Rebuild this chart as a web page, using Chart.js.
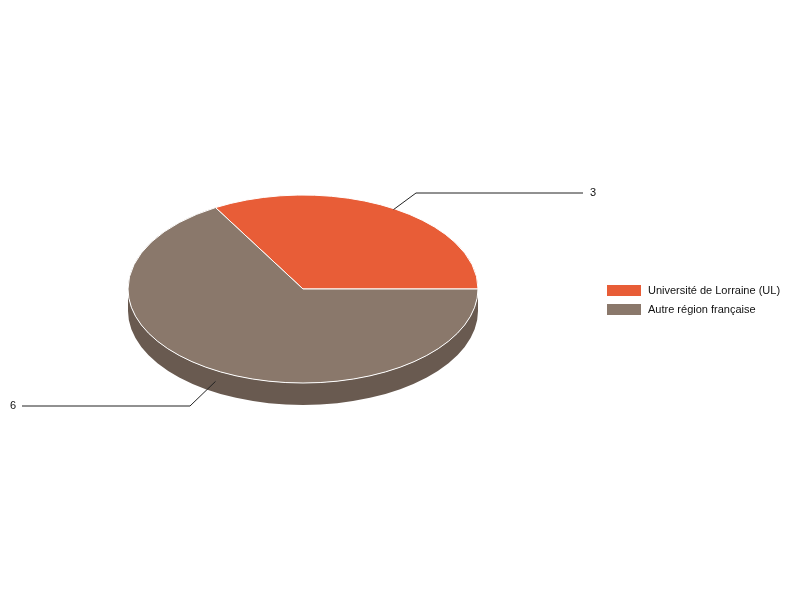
<!DOCTYPE html>
<html>
<head>
<meta charset="utf-8">
<script src="https://cdn.jsdelivr.net/npm/chart.js@4.4.1/dist/chart.umd.min.js"></script>
<style>
  html, body { margin: 0; padding: 0; background: #fff; }
  canvas { display: block; }
</style>
</head>
<body>
<canvas id="chart" width="800" height="600"></canvas>
<script>
const labels = ['Université de Lorraine (UL)', 'Autre région française'];
const values = [3, 6];
const colors = ['#E85D37', '#8A786B'];
const sideColors = ['#A8432A', '#695A50'];

// tilt of the pie (ry / rx) and thickness of the side wall
const TILT = 94 / 175;
const DEPTH = 22;
const FONT = '11px "Liberation Sans", Arial, sans-serif';

const pie3d = {
  id: 'pie3d',
  beforeDatasetsDraw() {
    return false; // we draw the slices ourselves, flattened
  },
  afterDraw(chart) {
    const ctx = chart.ctx;
    const arcs = chart.getDatasetMeta(0).data;
    if (!arcs.length) return;
    const p0 = arcs[0].getProps(['x', 'y', 'outerRadius']);
    const cx = p0.x, cy = p0.y, rx = p0.outerRadius, ry = rx * TILT;
    const TAU = Math.PI * 2;

    ctx.save();
    // side wall, only the front half is visible
    arcs.forEach((arc, i) => {
      const p = arc.getProps(['startAngle', 'endAngle']);
      let s = ((p.startAngle % TAU) + TAU) % TAU;
      let e = s + (p.endAngle - p.startAngle);
      [[0, Math.PI], [TAU, TAU + Math.PI]].forEach(([lo, hi]) => {
        const a0 = Math.max(s, lo), a1 = Math.min(e, hi);
        if (a1 <= a0) return;
        ctx.beginPath();
        ctx.ellipse(cx, cy, rx, ry, 0, a0, a1, false);
        ctx.ellipse(cx, cy + DEPTH, rx, ry, 0, a1, a0, true);
        ctx.closePath();
        ctx.fillStyle = sideColors[i];
        ctx.fill();
      });
    });

    // top face
    arcs.forEach((arc, i) => {
      const p = arc.getProps(['startAngle', 'endAngle']);
      ctx.beginPath();
      ctx.moveTo(cx, cy);
      ctx.ellipse(cx, cy, rx, ry, 0, p.startAngle, p.endAngle, false);
      ctx.closePath();
      ctx.fillStyle = colors[i];
      ctx.fill();
      ctx.strokeStyle = '#ffffff';
      ctx.lineWidth = 1;
      ctx.stroke();
    });

    // value labels with leader lines
    ctx.font = FONT;
    ctx.textBaseline = 'middle';
    arcs.forEach((arc, i) => {
      const p = arc.getProps(['startAngle', 'endAngle']);
      const mid = (p.startAngle + p.endAngle) / 2;
      const c = Math.cos(mid), sn = Math.sin(mid);
      const front = sn > 0;
      const sx = cx + (rx + (front ? 0 : 6)) * c, sy = cy + ry * sn + (front ? DEPTH / 2 : 2);
      const ex = cx + (rx + 51) * c;
      const ey = Math.floor(cy + (ry + 16) * sn + (front ? DEPTH : 0));
      const right = c >= 0;
      const hx = cx + (right ? 280 : -281);
      ctx.strokeStyle = '#222';
      ctx.lineWidth = 1;
      ctx.beginPath();
      ctx.moveTo(sx, sy);
      ctx.lineTo(ex, ey);
      ctx.lineTo(hx, ey);
      ctx.stroke();
      ctx.fillStyle = '#111';
      ctx.textAlign = right ? 'left' : 'right';
      ctx.fillText(String(values[i]), hx + (right ? 7 : -6), ey);
    });

    // legend
    ctx.textAlign = 'left';
    labels.forEach((lab, i) => {
      const y = 285 + i * 19;
      ctx.fillStyle = colors[i];
      ctx.fillRect(607, y, 34, 11);
      ctx.fillStyle = '#111';
      ctx.fillText(lab, 648, y + 6);
    });
    ctx.restore();
  }
};

new Chart(document.getElementById('chart'), {
  type: 'pie',
  data: {
    labels: labels,
    datasets: [{
      data: values,
      backgroundColor: colors,
      borderWidth: 0
    }]
  },
  options: {
    responsive: false,
    animation: false,
    events: [],
    rotation: -30,
    layout: { padding: { left: 128, right: 322, top: 114, bottom: 136 } },
    plugins: {
      legend: { display: false },
      tooltip: { enabled: false }
    }
  },
  plugins: [pie3d]
});
</script>
</body>
</html>
